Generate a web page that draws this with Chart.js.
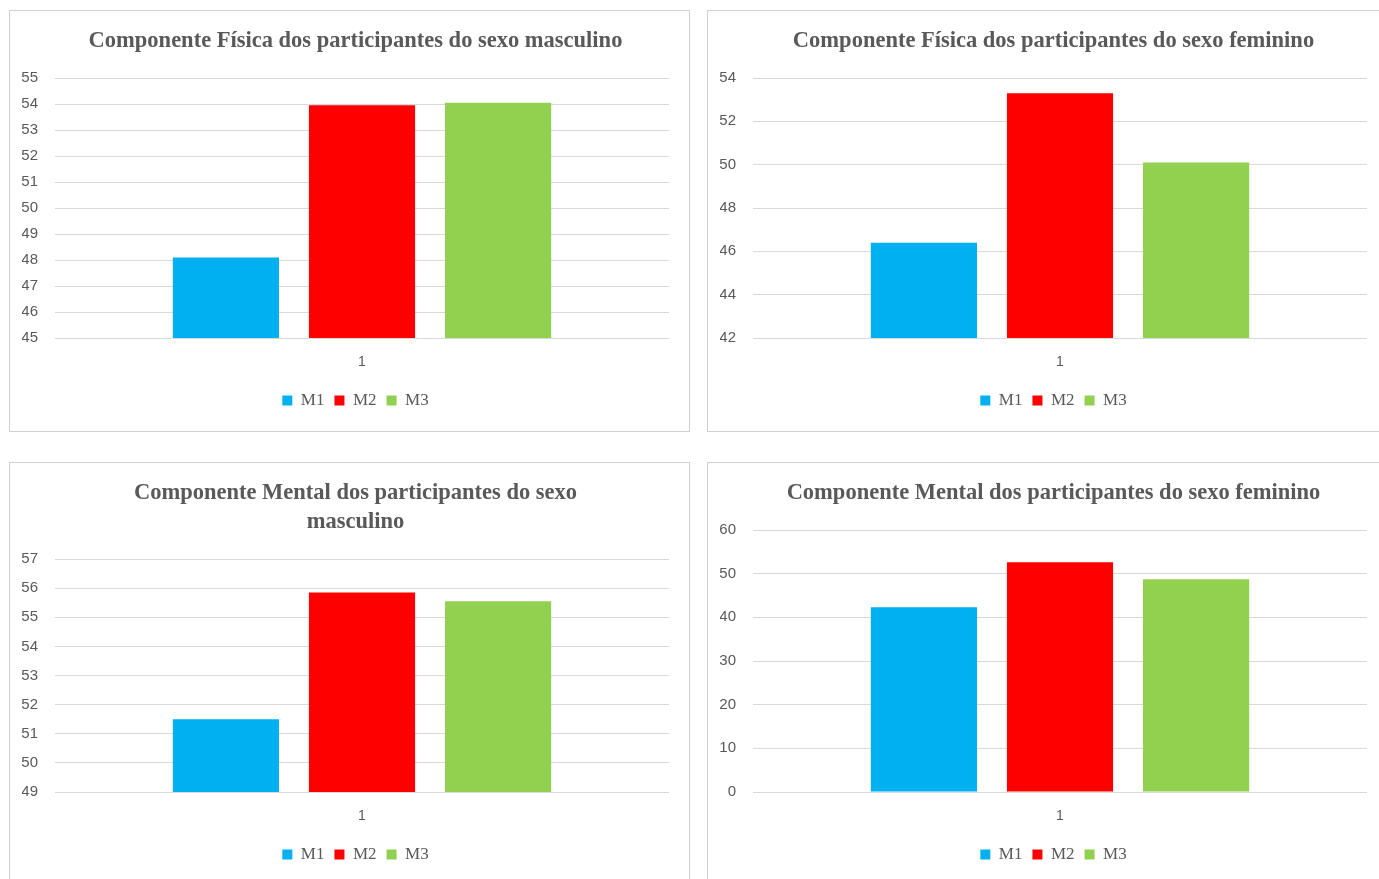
<!DOCTYPE html>
<html>
<head>
<meta charset="utf-8">
<script src="https://cdn.jsdelivr.net/npm/chart.js@4.4.0/dist/chart.umd.min.js"></script>
<style>
    body { margin: 0; background: #fff; width: 1379px; height: 879px; overflow: hidden; position: relative; }
    .panel { position: absolute; border: 1px solid #d0d0d0; background: #fff; }
    .panel canvas { display: block; }
</style>
</head>
<body>
<div class="panel" style="left:9px; top:10px; width:679px; height:420px;"><canvas id="c1"></canvas></div>
<div class="panel" style="left:707px; top:10px; width:679px; height:420px;"><canvas id="c2"></canvas></div>
<div class="panel" style="left:9px; top:462px; width:679px; height:422px;"><canvas id="c3"></canvas></div>
<div class="panel" style="left:707px; top:462px; width:679px; height:422px;"><canvas id="c4"></canvas></div>
<script>
// Data
const categories = ['1'];
const seriesNames = ['M1', 'M2', 'M3'];

const fisicaMasc = [48.1, 53.95, 54.05];
const fisicaFem = [46.4, 53.3, 50.1];
const mentalMasc = [51.5, 55.85, 55.55];
const mentalFem = [42.3, 52.6, 48.7];

// y axis ranges: [min, max, step]
const fisicaMascAxis = [45, 55, 1];
const fisicaFemAxis = [42, 54, 2];
const mentalMascAxis = [49, 57, 1];
const mentalFemAxis = [0, 60, 10];

const titles = [
    'Componente Física dos participantes do sexo masculino',
    'Componente Física dos participantes do sexo feminino',
    ['Componente Mental dos participantes do sexo', 'masculino'],
    'Componente Mental dos participantes do sexo feminino'
];

const colors = ['#00B0F0', '#FF0000', '#92D050'];
const textColor = '#595959';

function makeChart(id, title, values, axis) {
    const ctx = document.getElementById(id).getContext('2d');
    return new Chart(ctx, {
        type: 'bar',
        data: {
            labels: categories,
            datasets: seriesNames.map((name, i) => ({
                label: name,
                data: [values[i]],
                backgroundColor: colors[i],
                borderWidth: 0,
                categoryPercentage: 0.665,
                barPercentage: 0.78
            }))
        },
        options: {
            responsive: true,
            maintainAspectRatio: false,
            animation: false,
            layout: { padding: { left: 12, right: 0, top: 0, bottom: 12 } },
            plugins: {
                title: {
                    display: true,
                    text: title,
                    color: textColor,
                    font: { family: 'Liberation Serif', weight: 'bold', size: 22.5, lineHeight: 1.29 },
                    padding: { top: 16, bottom: 22 }
                },
                legend: {
                    position: 'bottom',
                    labels: {
                        boxWidth: 10,
                        boxHeight: 10,
                        padding: 10,
                        color: textColor,
                        font: { family: 'Liberation Serif', size: 17 }
                    }
                },
                tooltip: { enabled: false }
            },
            scales: {
                x: {
                    grid: { display: false, drawTicks: false },
                    border: { display: false },
                    ticks: { color: textColor, padding: 16, font: { family: 'Liberation Sans', size: 14 } },
                    afterFit: s => { s.height = 44; }
                },
                y: {
                    min: axis[0],
                    max: axis[1],
                    grid: { color: '#d9d9d9', drawTicks: false },
                    border: { display: false },
                    ticks: {
                        stepSize: axis[2],
                        padding: 17,
                        color: textColor,
                        font: { family: 'Liberation Sans', size: 15 }
                    },
                    afterFit: s => { s.width = 33; }
                },
                // empty spacer on the right so the title sits where it does in the reference
                yRight: {
                    position: 'right',
                    grid: { display: false, drawTicks: false },
                    border: { display: false },
                    ticks: { display: false },
                    afterFit: s => { s.width = 20; }
                }
            }
        }
    });
}

makeChart('c1', titles[0], fisicaMasc, fisicaMascAxis);
makeChart('c2', titles[1], fisicaFem, fisicaFemAxis);
makeChart('c3', titles[2], mentalMasc, mentalMascAxis);
makeChart('c4', titles[3], mentalFem, mentalFemAxis);
</script>
</body>
</html>
